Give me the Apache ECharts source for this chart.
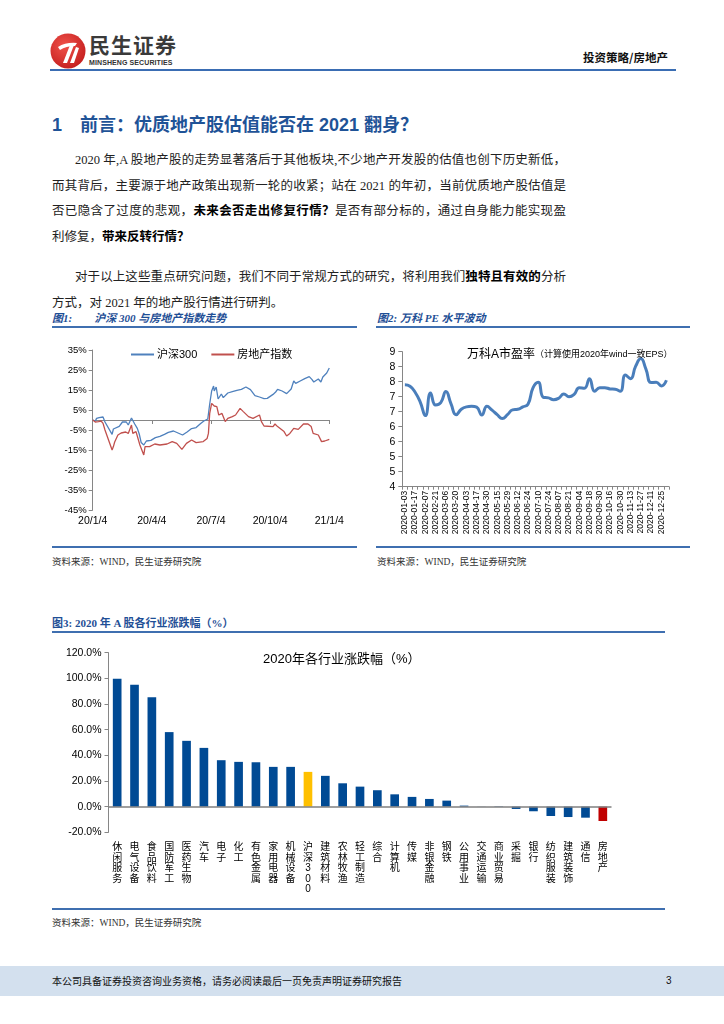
<!DOCTYPE html>
<html><head><meta charset="utf-8">
<script src="https://cdn.jsdelivr.net/npm/echarts/dist/echarts.min.js"></script>
<style>
body{margin:0;width:724px;height:1024px;position:relative;background:#fff;overflow:hidden;font-family:'Liberation Serif','Noto Sans CJK SC',serif;color:#111}
.a{position:absolute}
.ln{position:absolute;left:52px;width:514px;font-size:12.5px;line-height:16px;text-align:justify;text-align-last:justify;color:#222}
.ln.last{text-align-last:left}
.ln b{font-weight:bold;color:#000}
.cap{position:absolute;font-size:11px;font-weight:bold;color:#1F4F96;font-style:italic;line-height:14px;white-space:nowrap}
.rule{position:absolute;height:2px;background:#3F6FB0}
.src{position:absolute;font-size:9.5px;color:#333;line-height:12px;white-space:nowrap}
</style></head>
<body>
<!-- header -->
<svg class="a" style="left:50px;top:33px" width="36" height="36" viewBox="0 0 36 36">
<defs><radialGradient id="g" cx="40%" cy="35%" r="70%"><stop offset="0" stop-color="#F0524A"/><stop offset="1" stop-color="#C41E1E"/></radialGradient></defs>
<circle cx="18" cy="18" r="17.5" fill="url(#g)"/>
<path d="M8 14 Q16 9 27 10 L25 13 Q16 13 10 17 Z" fill="#fff"/>
<path d="M13 30 L20 12 L24 12 L17 30 Z" fill="#fff"/>
<path d="M20 30 L26 14 L29 15 L24 30 Z" fill="#fff"/>
</svg>
<div class="a" style="left:89px;top:31px;font-family:'Noto Sans CJK SC',sans-serif;font-size:21px;font-weight:bold;color:#3a3a3a;letter-spacing:1px;line-height:26px">民生证券</div>
<div class="a" style="left:89px;top:58px;font-family:'Liberation Sans',sans-serif;font-size:7px;font-weight:bold;color:#333;line-height:9px;letter-spacing:0.1px">MINSHENG SECURITIES</div>
<div class="a" style="left:583px;top:50px;font-size:11.5px;font-weight:bold;color:#111;line-height:15px;font-family:'Noto Sans CJK SC',sans-serif">投资策略/房地产</div>
<div class="a" style="left:50px;top:69px;width:626px;height:2px;background:#3A6DB3"></div>

<!-- title and text -->
<div class="a" style="left:52px;top:113px;font-family:'Liberation Sans','Noto Sans CJK SC',sans-serif;font-size:18px;font-weight:bold;color:#1F5397;line-height:24px;white-space:nowrap">1<span style="display:inline-block;width:18px"></span>前言：优质地产股估值能否在 2021 翻身？</div>
<div class="ln" style="top:152px;padding-left:23px;width:491px">2020 年,A 股地产股的走势显著落后于其他板块,不少地产开发股的估值也创下历史新低，</div>
<div class="ln" style="top:177.5px">而其背后，主要源于地产政策出现新一轮的收紧；站在 2021 的年初，当前优质地产股估值是</div>
<div class="ln" style="top:203px">否已隐含了过度的悲观，<b>未来会否走出修复行情？</b>是否有部分标的，通过自身能力能实现盈</div>
<div class="ln last" style="top:228.5px">利修复，<b>带来反转行情？</b></div>
<div class="ln" style="top:269px;padding-left:23px;width:491px">对于以上这些重点研究问题，我们不同于常规方式的研究，将利用我们<b>独特且有效的</b>分析</div>
<div class="ln last" style="top:295px">方式，对 2021 年的地产股行情进行研判。</div>

<!-- figure 1 & 2 captions -->
<div class="cap" style="left:52px;top:311px">图1:<span style="display:inline-block;width:22px"></span>沪深 300 与房地产指数走势</div>
<div class="rule" style="left:52px;top:326px;width:305px"></div>
<div class="cap" style="left:377px;top:311px">图2: 万科 PE 水平波动</div>
<div class="rule" style="left:376px;top:326px;width:314px"></div>

<div id="c1" class="a" style="left:40px;top:335px;width:320px;height:200px"></div>
<div id="c2" class="a" style="left:370px;top:335px;width:330px;height:205px"></div>

<div class="rule" style="left:52px;top:546px;width:305px;height:1.5px"></div>
<div class="src" style="left:52px;top:556px">资料来源：WIND，民生证券研究院</div>
<div class="rule" style="left:376px;top:546px;width:314px;height:1.5px"></div>
<div class="src" style="left:377px;top:556px">资料来源：WIND，民生证券研究院</div>

<!-- figure 3 -->
<div class="cap" style="left:52px;top:616px;font-style:normal">图3: 2020 年 A 股各行业涨跌幅（%）</div>
<div class="rule" style="left:52px;top:631px;width:613px"></div>
<div id="c3" class="a" style="left:40px;top:640px;width:640px;height:265px"></div>
<div class="rule" style="left:52px;top:908px;width:613px;height:1.5px"></div>
<div class="src" style="left:52px;top:917px">资料来源：WIND，民生证券研究院</div>

<!-- footer -->
<div class="a" style="left:0;top:966px;width:724px;height:30px;background:#D3E0EE"></div>
<div class="a" style="left:52px;top:973px;font-family:'Noto Sans CJK SC',sans-serif;font-size:10px;line-height:15px;color:#111">本公司具备证券投资咨询业务资格，请务必阅读最后一页免责声明证券研究报告</div>
<div class="a" style="left:666px;top:973px;font-family:'Liberation Sans',sans-serif;font-size:10px;line-height:15px;color:#111">3</div>

<script>
// ---------- Figure 1: 沪深300 vs 房地产指数 (cumulative % change) ----------
const hsDates = ['2020-01-04','2020-01-08','2020-01-10','2020-01-14','2020-01-17','2020-01-20','2020-01-23','2020-02-03','2020-02-05','2020-02-07','2020-02-14','2020-02-19','2020-02-21','2020-02-25','2020-02-28','2020-03-04','2020-03-05','2020-03-09','2020-03-13','2020-03-16','2020-03-19','2020-03-23','2020-03-27','2020-04-03','2020-04-10','2020-04-17','2020-04-24','2020-04-30','2020-05-08','2020-05-15','2020-05-22','2020-05-29','2020-06-05','2020-06-12','2020-06-19','2020-06-24','2020-06-30','2020-07-01','2020-07-03','2020-07-06','2020-07-09','2020-07-10','2020-07-13','2020-07-16','2020-07-17','2020-07-21','2020-07-24','2020-07-31','2020-08-07','2020-08-14','2020-08-21','2020-08-28','2020-09-04','2020-09-11','2020-09-18','2020-09-25','2020-09-30','2020-10-09','2020-10-13','2020-10-16','2020-10-23','2020-10-30','2020-11-06','2020-11-10','2020-11-13','2020-11-20','2020-11-27','2020-12-04','2020-12-08','2020-12-11','2020-12-18','2020-12-22','2020-12-25','2020-12-31','2021-01-04'];
const hsValues = [0,-0.5,0.8,1.2,0.8,1.5,-1.0,-7.2,-4.5,-5.2,-3.2,-1.0,-0.2,-1.0,-2.5,1.0,1.5,-2.0,-4.2,-7.0,-11.3,-12.5,-10.5,-10.2,-8.8,-8.2,-7.2,-6.2,-5.5,-6.5,-7.5,-6.0,-4.3,-3.8,-1.8,-0.5,0.5,3.0,8.0,14.5,17.0,14.5,16.5,10.5,11.5,13.0,11.2,13.5,14.2,14.8,15.3,16.5,15.2,12.2,11.5,10.7,10.8,12.8,14.0,15.3,14.5,13.2,15.5,19.5,18.3,19.5,20.7,21.7,20.3,19.0,20.5,19.0,21.5,23.5,26.0];
const reDates = ['2020-01-04','2020-01-08','2020-01-13','2020-01-17','2020-01-20','2020-01-23','2020-02-03','2020-02-05','2020-02-07','2020-02-12','2020-02-17','2020-02-20','2020-02-24','2020-02-28','2020-03-04','2020-03-06','2020-03-11','2020-03-17','2020-03-20','2020-03-23','2020-03-25','2020-04-01','2020-04-09','2020-04-17','2020-04-28','2020-05-06','2020-05-13','2020-05-21','2020-05-28','2020-06-05','2020-06-12','2020-06-23','2020-06-29','2020-07-01','2020-07-03','2020-07-06','2020-07-10','2020-07-14','2020-07-17','2020-07-22','2020-07-27','2020-07-31','2020-08-07','2020-08-12','2020-08-19','2020-08-24','2020-09-01','2020-09-08','2020-09-18','2020-09-21','2020-09-25','2020-10-09','2020-10-12','2020-10-16','2020-10-26','2020-10-30','2020-11-04','2020-11-10','2020-11-17','2020-11-25','2020-12-02','2020-12-07','2020-12-10','2020-12-18','2020-12-23','2020-12-28','2021-01-04'];
const reValues = [0,-1.0,-0.8,-0.5,-1.7,-5.0,-15.0,-13.3,-11.0,-7.5,-6.5,-7.5,-6.0,-6.7,-2.5,-6.7,-5.8,-12.5,-13.5,-17.5,-13.3,-13.3,-12.0,-12.5,-12.0,-10.8,-11.7,-14.7,-11.7,-10.0,-11.3,-10.8,-9.2,-6.7,3.3,8.3,7.0,6.7,2.5,3.3,-0.8,0.8,1.7,2.5,5.8,4.2,1.7,0.8,2.5,-0.8,-3.0,-3.3,-2.0,-3.3,-5.8,-8.0,-6.7,-4.2,-4.7,-2.0,-2.0,-3.3,-6.7,-7.5,-10.8,-10.5,-9.7];
const fig1TickLabels = ['20/1/4','20/4/4','20/7/4','20/10/4','21/1/4'];
const fig1Start = '2020-01-04', fig1End = '2021-01-04';

// ---------- Figure 2: 万科A 市盈率 (weekly) ----------
const peDates = ['2020-01-03','2020-01-10','2020-01-17','2020-01-23','2020-02-07','2020-02-14','2020-02-21','2020-02-28','2020-03-06','2020-03-13','2020-03-20','2020-03-27','2020-04-03','2020-04-10','2020-04-17','2020-04-24','2020-04-30','2020-05-08','2020-05-15','2020-05-22','2020-05-29','2020-06-05','2020-06-12','2020-06-19','2020-06-24','2020-07-03','2020-07-10','2020-07-17','2020-07-24','2020-07-31','2020-08-07','2020-08-14','2020-08-21','2020-08-28','2020-09-04','2020-09-11','2020-09-18','2020-09-25','2020-09-30','2020-10-09','2020-10-16','2020-10-23','2020-10-30','2020-11-06','2020-11-13','2020-11-20','2020-11-27','2020-12-04','2020-12-11','2020-12-18','2020-12-25','2020-12-31'];
const peValues = [7.40,7.35,7.15,6.82,6.37,7.12,6.72,6.80,7.17,6.76,6.40,6.58,6.66,6.68,6.65,6.39,6.68,6.55,6.40,6.27,6.40,6.56,6.58,6.66,6.75,7.30,7.48,6.98,6.96,6.90,6.95,7.09,7.00,7.08,7.30,7.28,7.60,7.18,7.30,7.30,7.26,7.25,7.18,7.72,7.60,8.02,8.27,7.92,7.47,7.48,7.36,7.55];

// ---------- Figure 3: 2020年各行业涨跌幅 ----------
const industries = ['休闲服务','电气设备','食品饮料','国防军工','医药生物','汽车','电子','化工','有色金属','家用电器','机械设备','沪深300','建筑材料','农林牧渔','轻工制造','综合','计算机','传媒','非银金融','钢铁','公用事业','交通运输','商业贸易','采掘','银行','纺织服装','建筑装饰','通信','房地产'];
const industryChanges = [99.7,95.1,85.2,58.1,51.3,45.8,36.2,34.9,34.6,31.0,31.0,27.1,24.0,18.2,15.6,12.8,9.6,7.6,6.0,4.7,0.8,0.1,-0.3,-1.8,-3.6,-7.3,-8.1,-8.6,-11.2];

const FONT = "'Liberation Sans','Noto Sans CJK SC',sans-serif";
const AX = '#868686';

// Figure 1
const t0 = Date.parse(fig1Start), t1 = Date.parse(fig1End), step = (t1 - t0) / 4;
const c1 = echarts.init(document.getElementById('c1'));
c1.setOption({
  animation: false,
  textStyle: { fontFamily: FONT },
  legend: { top: 9, left: 86, itemWidth: 23, itemHeight: 2, itemGap: 14, icon: 'rect',
    textStyle: { fontSize: 11, color: '#000', padding: [0, 0, 0, -2] }, data: ['沪深300', '房地产指数'] },
  grid: { left: 52.7, top: 15, right: 30.7, bottom: 25 },
  xAxis: { type: 'value', min: t0, max: t1, interval: step,
    axisLine: { lineStyle: { color: AX } }, axisTick: { length: 4, lineStyle: { color: AX } },
    splitLine: { show: false },
    axisLabel: { fontSize: 10.5, color: '#000', margin: 6, formatter: v => fig1TickLabels[Math.round((v - t0) / step)] } },
  yAxis: { type: 'value', min: -45, max: 35, interval: 10,
    axisLine: { show: true, lineStyle: { color: AX } }, axisTick: { show: true, length: 4, lineStyle: { color: AX } },
    splitLine: { show: false },
    axisLabel: { fontSize: 9.5, color: '#000', margin: 6, formatter: '{value}%' } },
  series: [
    { name: '沪深300', type: 'line', symbol: 'none', color: '#4F81BD',
      data: hsDates.map((d, i) => [Date.parse(d), hsValues[i]]), lineStyle: { width: 1.3 } },
    { name: '房地产指数', type: 'line', symbol: 'none', color: '#C0504D',
      data: reDates.map((d, i) => [Date.parse(d), reValues[i]]), lineStyle: { width: 1.3 } }
  ]
});

// Figure 2
const c2 = echarts.init(document.getElementById('c2'));
c2.setOption({
  animation: false,
  textStyle: { fontFamily: FONT },
  title: { text: '{a|万科A市盈率}{b|（计算使用2020年wind一致EPS）}', left: 92, top: 9,
    textStyle: { fontWeight: 'normal', rich: {
      a: { fontSize: 12, color: '#000', fontFamily: FONT, fontWeight: 'normal' },
      b: { fontSize: 9, color: '#000', fontFamily: FONT, fontWeight: 'normal' } } } },
  grid: { left: 32.3, top: 16.7, right: 31, bottom: 53.3 },
  xAxis: { type: 'category', data: peDates, boundaryGap: true,
    axisLine: { lineStyle: { color: AX } }, axisTick: { show: true, interval: 0, length: 3, lineStyle: { color: AX } },
    axisLabel: { interval: 1, rotate: 90, fontSize: 8.5, margin: 4, color: '#000' } },
  yAxis: { type: 'value', min: 4, max: 8.5, interval: 0.5,
    axisLine: { show: true, lineStyle: { color: AX } }, axisTick: { show: true, length: 4, lineStyle: { color: AX } },
    splitLine: { show: false },
    axisLabel: { fontSize: 10.5, color: '#000', margin: 7, formatter: v => String(Math.round(v)) } },
  series: [{ type: 'line', smooth: true, symbol: 'none', data: peValues, color: '#4A7EBB', lineStyle: { width: 3 } }]
});

// Figure 3
const c3 = echarts.init(document.getElementById('c3'));
c3.setOption({
  animation: false,
  textStyle: { fontFamily: FONT },
  title: { text: '2020年各行业涨跌幅（%）', left: 218, top: 8,
    textStyle: { fontSize: 13, fontWeight: 'normal', color: '#000', fontFamily: FONT } },
  grid: { left: 68.5, top: 12.7, right: 68.5, bottom: 72.7 },
  xAxis: { type: 'category', data: industries,
    axisLine: { show: false, onZero: false }, axisTick: { show: false },
    axisLabel: { interval: 0, margin: 10, fontSize: 10, lineHeight: 10.5, color: '#000',
      formatter: v => v.split('').join('\n') } },
  yAxis: { type: 'value', min: -20, max: 120, interval: 20,
    axisLine: { show: true, lineStyle: { color: AX } }, axisTick: { show: true, length: 4, lineStyle: { color: AX } },
    splitLine: { show: false },
    axisLabel: { fontSize: 10.5, color: '#000', margin: 7, formatter: v => v.toFixed(1) + '%' } },
  series: [{ type: 'bar', barWidth: '50%',
    data: industryChanges.map((v, i) => ({ value: v, itemStyle: { color: industries[i] === '沪深300' ? '#FFC000' : (industries[i] === '房地产' ? '#C00000' : '#004A94') } })),
    markLine: { silent: true, symbol: 'none', label: { show: false },
      lineStyle: { color: '#7F7F7F', width: 1.5, type: 'solid' }, data: [{ yAxis: 0 }] } }]
});
</script>
</body></html>
